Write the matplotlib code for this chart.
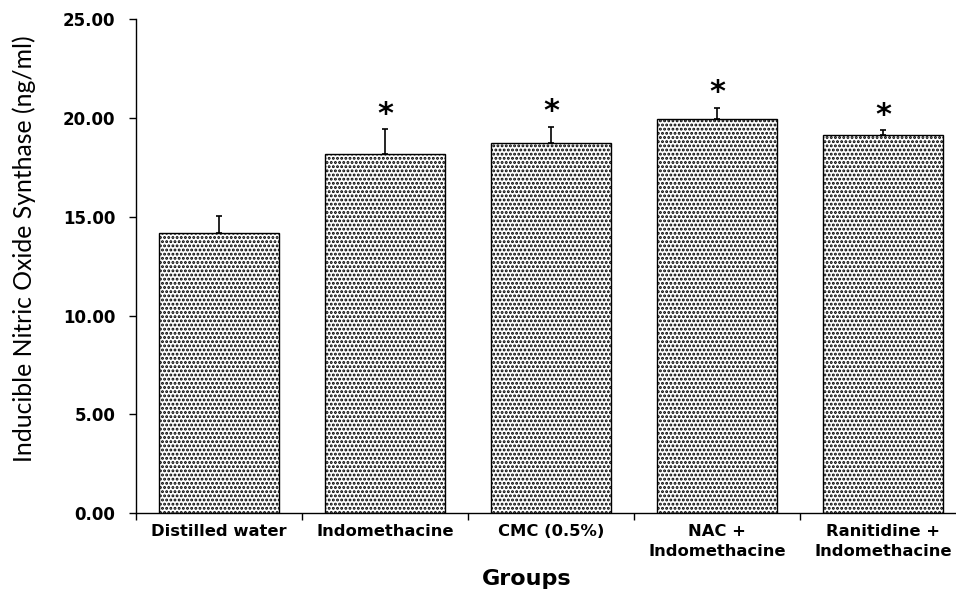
import matplotlib
matplotlib.use("Agg")
import matplotlib.pyplot as plt
import numpy as np

# values
groups = ["Distilled water", "Indomethacine", "CMC (0.5%)",
          "NAC +\nIndomethacine", "Ranitidine +\nIndomethacine"]
means = [14.20, 18.16, 18.75, 19.93, 19.13]
errors = [0.85, 1.28, 0.80, 0.59, 0.26]
significant = [False, True, True, True, True]
y_ticks = [0, 5, 10, 15, 20, 25]

plt.rcParams['hatch.linewidth'] = 1.4
plt.rcParams['hatch.color'] = 'black'

fig = plt.figure(figsize=(9.56, 5.92), dpi=100)
ax = fig.add_axes([0.1423, 0.1329, 0.868, 0.835])

x = np.arange(len(groups))
ax.bar(x, means, width=0.72, color='white', edgecolor='black',
       linewidth=1.0, hatch='....', zorder=2)
ax.errorbar(x, means, yerr=[np.zeros(len(means)), errors], fmt='none',
            ecolor='black', elinewidth=1.2, capsize=2.5, capthick=1.2, zorder=3)

for xi, m, e, s in zip(x, means, errors, significant):
    if s:
        ax.text(xi, m + e + 0.75, '*', ha='center', va='center',
                fontsize=22, fontweight='bold', color='black')

ax.set_xlim(-0.5, len(groups) - 0.5)
ax.set_ylim(0, 25)
ax.set_yticks(y_ticks)
ax.set_yticklabels([f"{v:.2f}" for v in y_ticks], fontsize=12, fontweight='bold',
                   family='DejaVu Sans')
ax.set_xticks(x)
ax.set_xticklabels(groups, fontsize=11.8, fontweight='bold', family='DejaVu Sans',
                   linespacing=1.35)
ax.set_xticks(np.arange(-0.5, len(groups) + 0.5, 1), minor=True)
ax.tick_params(axis='x', which='major', length=0, pad=8)
ax.tick_params(axis='x', which='minor', length=5, direction='out', width=1)
ax.tick_params(axis='y', length=5, direction='out', width=1, pad=10)

for side in ['top', 'right']:
    ax.spines[side].set_visible(False)
for side in ['left', 'bottom']:
    ax.spines[side].set_linewidth(1.0)

ax.set_ylabel("Inducible Nitric Oxide Synthase (ng/ml)", fontsize=17.8,
              family='Lato')
ax.yaxis.set_label_coords(-0.12, 0.536)
ax.set_xlabel("Groups", fontsize=16, fontweight='bold', family='DejaVu Sans')
ax.xaxis.set_label_coords((527 - 136) / 830, -0.132)
ax.xaxis.label.set_verticalalignment('center')

fig.savefig("out.png", dpi=100)
